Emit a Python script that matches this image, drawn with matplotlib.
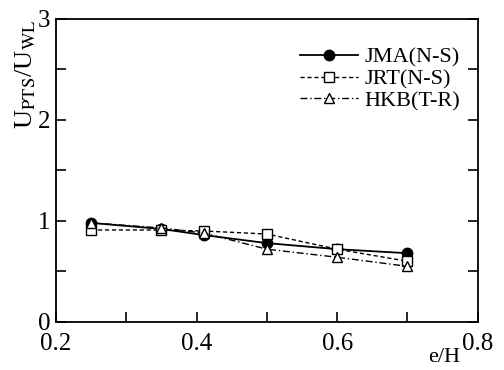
import matplotlib.pyplot as plt
from matplotlib.ticker import MultipleLocator

plt.rcParams['font.family'] = ['Liberation Serif', 'DejaVu Serif']
plt.rcParams['mathtext.fontset'] = 'stix'

eH = [0.25, 0.35, 0.41, 0.5, 0.6, 0.7]
jma = [0.98, 0.92, 0.86, 0.78, 0.72, 0.68]
jrt = [0.91, 0.91, 0.90, 0.87, 0.72, 0.60]
hkb = [0.98, 0.93, 0.88, 0.72, 0.64, 0.55]

fig = plt.figure(figsize=(5.04, 3.70), dpi=100)
ax = fig.add_axes([0.111, 0.130, 0.837, 0.819])

ax.plot(eH, jma, '-', color='black', lw=1.3, marker='o', ms=7.5, mfc='black', label='JMA(N-S)')
ax.plot(eH, jrt, '--', color='black', lw=1.0, marker='s', ms=7.5, mfc='white', dashes=(3, 2), label='JRT(N-S)')
ax.plot(eH, hkb, '-.', color='black', lw=1.0, marker='^', ms=7.5, mfc='white', dashes=(5, 2, 1, 2), label='HKB(T-R)')

ax.set_xlim(0.2, 0.8)
ax.set_ylim(0, 3)
ax.xaxis.set_major_locator(MultipleLocator(0.2))
ax.xaxis.set_minor_locator(MultipleLocator(0.1))
ax.yaxis.set_major_locator(MultipleLocator(1))
ax.yaxis.set_minor_locator(MultipleLocator(0.5))
ax.xaxis.set_major_formatter(plt.FuncFormatter(lambda v, p: '%.1f' % v))
ax.yaxis.set_major_formatter(plt.FuncFormatter(lambda v, p: '%d' % v))
ax.tick_params(which='both', direction='in', right=True, top=False, labelsize=18, width=1.2, length=7)
ax.tick_params(axis='x', pad=8)
ax.tick_params(axis='y', pad=4)
for s in ax.spines.values():
    s.set_linewidth(1.3)

ax.set_ylabel(r'U$_{\rm PTS}$/U$_{\rm WL}$', fontsize=19, loc='top', labelpad=0)
fig.text(0.85, 0.022, 'e/H', fontsize=16)

leg = ax.legend(loc='upper right', bbox_to_anchor=(1.0, 0.965), fontsize=16, frameon=False,
                handlelength=2.6, handletextpad=0.3, labelspacing=0.05, borderaxespad=0.4)

fig.savefig('out.png', dpi=100)
